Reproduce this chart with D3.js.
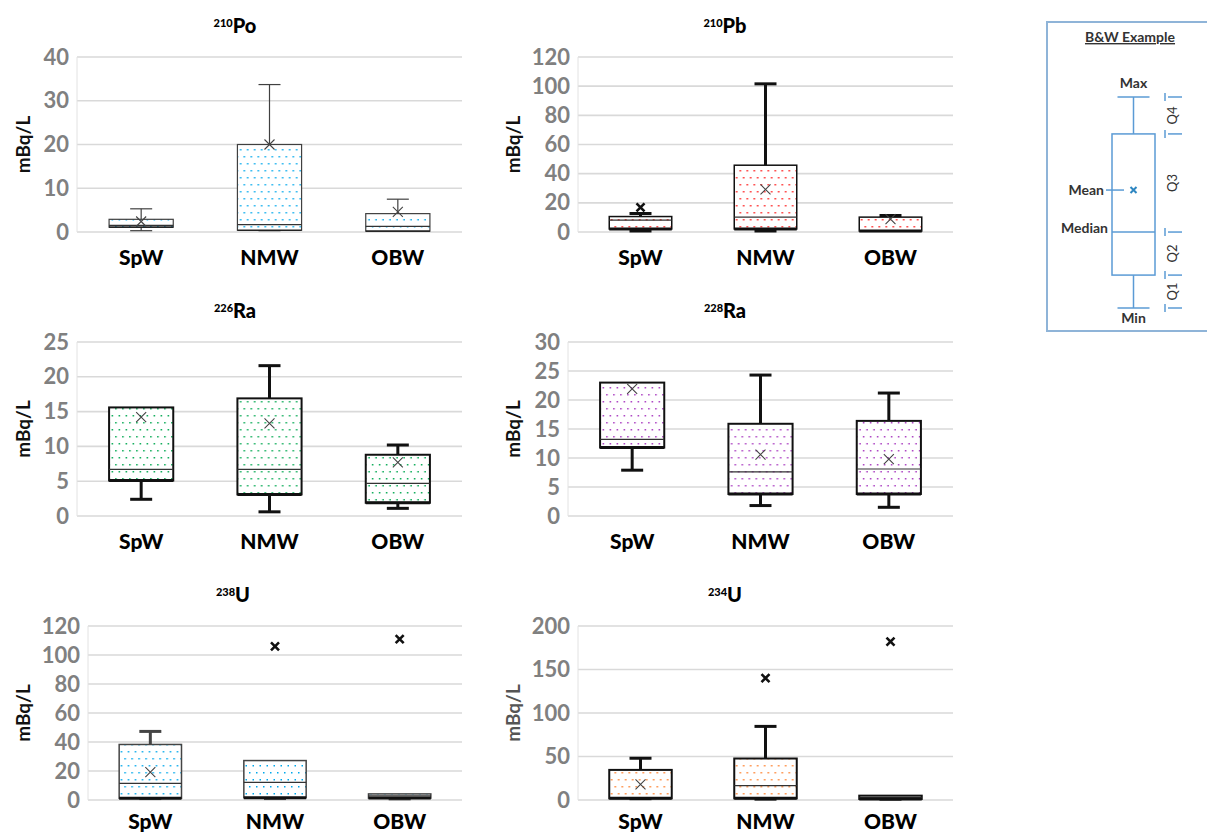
<!DOCTYPE html>
<html>
<head>
<meta charset="utf-8">
<script src="https://cdn.jsdelivr.net/npm/d3@7"></script>
<style>
  body { margin: 0; background: #fff; }
  svg { display: block; }
  text { font-family: Lato, "Open Sans", sans-serif; }
</style>
</head>
<body>
<svg id="chart" width="1207" height="835"></svg>
<script>
const groups = ["SpW", "NMW", "OBW"];

// each row: [min, q1, median, q3, max, mean] for SpW, NMW, OBW
const po210 = [[0.3, 1.1, 1.5, 2.9, 5.3, 2.4], [0.3, 0.4, 1.7, 20.0, 33.7, 20.0], [0.2, 0.2, 1.3, 4.2, 7.5, 4.6]];
const pb210 = [[0.7, 2.1, 8.1, 10.6, 12.7, 16.9], [0.7, 2.1, 10.2, 45.8, 101.6, 29.2], [0.7, 0.7, 0.9, 10.2, 11.3, 8.8]];
const ra226 = [[2.4, 5.1, 6.7, 15.6, 15.6, 14.2], [0.6, 3.1, 6.7, 16.9, 21.6, 13.3], [1.1, 1.9, 4.7, 8.8, 10.2, 7.7]];
const ra228 = [[7.9, 11.8, 13.2, 23.0, 23.0, 21.9], [1.8, 3.8, 7.6, 15.9, 24.3, 10.6], [1.5, 3.8, 8.1, 16.4, 21.2, 9.8]];
const u238 = [[1.0, 1.2, 11.5, 38.3, 47.3, 19.2], [1.0, 1.6, 12.2, 27.2, 27.2, 106], [0.8, 1.3, 2.8, 4.2, 4.2, 111]];
const u234 = [[1.5, 1.9, 2.2, 34.6, 48, 18], [1.0, 1.9, 16.5, 47.7, 84.6, 140], [1.0, 1.2, 3.0, 5.0, 5.0, 182]];

const poTicks = [0, 10, 20, 30, 40];
const pbTicks = [0, 20, 40, 60, 80, 100, 120];
const ra226Ticks = [0, 5, 10, 15, 20, 25];
const ra228Ticks = [0, 5, 10, 15, 20, 25, 30];
const u238Ticks = [0, 20, 40, 60, 80, 100, 120];
const u234Ticks = [0, 50, 100, 150, 200];

const massNumbers = ["210", "210", "226", "228", "238", "234"];
const elements = ["Po", "Pb", "Ra", "Ra", "U", "U"];
const unitLabel = "mBq/L";

// legend example, in fractions of the whisker span: [min, q1, median, q3, max, mean]
const legendStats = [0, 0.156, 0.36, 0.825, 1, 0.559];
const quartileNames = ["Q1", "Q2", "Q3", "Q4"];

const panelData = [po210, pb210, ra226, ra228, u238, u234];
const panelTicks = [poTicks, pbTicks, ra226Ticks, ra228Ticks, u238Ticks, u234Ticks];

const dotColors = ["#00a8ec", "#ff1a1a", "#00a850", "#a838c0", "#00a8ec", "#ff7f2a"];

const frames = [
  { left: 77, right: 462, top: 57, bottom: 232, titleX: 235, labelX: 23, catY: 33 },
  { left: 578, right: 953, top: 57, bottom: 232, titleX: 725, labelX: 513, catY: 33 },
  { left: 77, right: 462, top: 342, bottom: 516, titleX: 235, labelX: 23, catY: 33 },
  { left: 568, right: 953, top: 342, bottom: 516, titleX: 725, labelX: 513, catY: 33 },
  { left: 88, right: 462, top: 626, bottom: 800, titleX: 233, labelX: 23, catY: 29 },
  { left: 578, right: 953, top: 626, bottom: 800, titleX: 725, labelX: 513, catY: 29 }
];

const looks = [
  { stroke: "#404040", box: 1.2, whisker: 1.2, q1: 1.2 },
  { stroke: "#111", box: 1.5, whisker: 3, q1: 3 },
  { stroke: "#111", box: 2, whisker: 3, q1: 3 },
  { stroke: "#111", box: 2, whisker: 3, q1: 3 },
  { stroke: "#444", box: 1.5, whisker: 3, q1: 3 },
  { stroke: "#111", box: 2, whisker: 3, q1: 3 }
];

const svg = d3.select("#chart");
const defs = svg.append("defs");

dotColors.forEach((c, i) => {
  const p = defs.append("pattern")
    .attr("id", "dots" + i)
    .attr("patternUnits", "userSpaceOnUse")
    .attr("width", 14).attr("height", 14);
  p.append("rect").attr("width", 14).attr("height", 14).attr("fill", "#fff");
  [[2, 2], [9, 2], [5.5, 9], [12.5, 9]].forEach(([x, y]) => {
    p.append("rect").attr("x", x).attr("y", y).attr("width", 1.5).attr("height", 1.5).attr("fill", c);
  });
});

function drawPanel(i) {
  const f = frames[i];
  const rows = panelData[i];
  const ticks = panelTicks[i];
  const look = looks[i];
  const g = svg.append("g");

  const x = d3.scaleBand().domain(groups).range([f.left, f.right]);
  const y = d3.scaleLinear().domain([0, d3.max(ticks)]).range([f.bottom, f.top]);

  // gridlines
  g.append("g").selectAll("line").data(ticks).join("line")
    .attr("x1", f.left).attr("x2", f.right)
    .attr("y1", d => y(d)).attr("y2", d => y(d))
    .attr("stroke", "#d9d9d9").attr("stroke-width", 1.6);
  g.append("line")
    .attr("x1", f.left).attr("x2", f.left)
    .attr("y1", f.top).attr("y2", f.bottom)
    .attr("stroke", "#e2e2e2").attr("stroke-width", 1);

  // y axis labels
  const yAxis = d3.axisLeft(y).tickValues(ticks).tickSize(0).tickPadding(8);
  const ya = g.append("g").attr("transform", `translate(${f.left},0)`).call(yAxis);
  ya.select(".domain").remove();
  ya.selectAll("text")
    .attr("fill", "#808080").attr("font-size", 22).attr("font-weight", 700)
    .style("font-family", "Lato, sans-serif");

  // x axis labels
  const xAxis = d3.axisBottom(x).tickSize(0).tickPadding(0);
  const xa = g.append("g").attr("transform", `translate(0,${f.bottom})`).call(xAxis);
  xa.select(".domain").remove();
  xa.selectAll("text")
    .attr("dy", null).attr("y", f.catY)
    .attr("fill", "#000").attr("font-size", 21).attr("font-weight", 900)
    .style("font-family", "Lato, sans-serif");

  // unit label
  g.append("text")
    .attr("transform", `translate(${f.labelX + 7},${(f.top + f.bottom) / 2}) rotate(-90)`)
    .attr("text-anchor", "middle")
    .attr("font-size", 19).attr("font-weight", 700)
    .attr("fill", i === 5 ? "#555" : "#111")
    .text(unitLabel);

  // title
  const t = g.append("text")
    .attr("x", f.titleX).attr("y", f.top - 24)
    .attr("text-anchor", "middle").attr("font-weight", 900).attr("fill", "#000");
  t.append("tspan").attr("font-size", 11).attr("dy", -6).text(massNumbers[i]);
  t.append("tspan").attr("font-size", 20).attr("dy", 6).text(elements[i]);

  const bw = x.bandwidth() * 0.5;
  const cap = 22;
  const boxes = g.append("g").selectAll("g").data(rows).join("g")
    .attr("transform", (d, k) => `translate(${x(groups[k]) + x.bandwidth() / 2},0)`);

  // whiskers
  boxes.each(function (d) {
    const b = d3.select(this);
    const [mn, q1, med, q3, mx] = d;
    if (mx > q3) {
      b.append("line").attr("x1", 0).attr("x2", 0).attr("y1", y(q3)).attr("y2", y(mx))
        .attr("stroke", look.stroke).attr("stroke-width", look.whisker);
      b.append("line").attr("x1", -cap / 2).attr("x2", cap / 2).attr("y1", y(mx)).attr("y2", y(mx))
        .attr("stroke", look.stroke).attr("stroke-width", look.whisker);
    }
    if (mn < q1) {
      b.append("line").attr("x1", 0).attr("x2", 0).attr("y1", y(q1)).attr("y2", y(mn))
        .attr("stroke", look.stroke).attr("stroke-width", look.whisker);
      b.append("line").attr("x1", -cap / 2).attr("x2", cap / 2).attr("y1", y(mn)).attr("y2", y(mn))
        .attr("stroke", look.stroke).attr("stroke-width", look.whisker);
    }
  });

  boxes.append("rect")
    .attr("x", -bw / 2).attr("width", bw)
    .attr("y", d => y(d[3]))
    .attr("height", d => Math.max(1, y(d[1]) - y(d[3])))
    .attr("fill", `url(#dots${i})`)
    .attr("stroke", look.stroke).attr("stroke-width", look.box);

  boxes.append("line")
    .attr("x1", -bw / 2).attr("x2", bw / 2)
    .attr("y1", d => y(d[2])).attr("y2", d => y(d[2]))
    .attr("stroke", "#333").attr("stroke-width", 1.2);

  boxes.append("line")
    .attr("x1", -bw / 2).attr("x2", bw / 2)
    .attr("y1", d => y(d[1])).attr("y2", d => y(d[1]))
    .attr("stroke", "#111").attr("stroke-width", look.q1);

  // mean markers; bold when above the whisker
  boxes.append("path")
    .attr("d", d => {
      const s = d[5] > d[4] ? 4 : 5;
      const cy = y(d[5]);
      return `M${-s},${cy - s}L${s},${cy + s}M${-s},${cy + s}L${s},${cy - s}`;
    })
    .attr("fill", "none")
    .attr("stroke", d => d[5] > d[4] ? "#111" : "#444")
    .attr("stroke-width", d => d[5] > d[4] ? 2.6 : 1.1);
}

d3.range(panelData.length).forEach(drawPanel);

// legend box
const lg = svg.append("g");
const lBlue = "#5b9bd5";
lg.append("rect")
  .attr("x", 1047).attr("y", 22).attr("width", 180).attr("height", 309)
  .attr("fill", "none").attr("stroke", "#8fb4d8").attr("stroke-width", 2);
lg.append("text")
  .attr("x", 1130).attr("y", 42).attr("text-anchor", "middle")
  .attr("font-size", 14).attr("font-weight", 700).attr("fill", "#333")
  .attr("text-decoration", "underline")
  .text("B&W Example");

const ly = d3.scaleLinear().domain([0, 1]).range([308, 97]);
const [lMin, lQ1, lMed, lQ3, lMax, lMean] = legendStats;
const lcx = 1133.5, lbw = 43;
lg.append("line").attr("x1", lcx).attr("x2", lcx).attr("y1", ly(lMax)).attr("y2", ly(lQ3))
  .attr("stroke", lBlue).attr("stroke-width", 1.5);
lg.append("line").attr("x1", lcx).attr("x2", lcx).attr("y1", ly(lQ1)).attr("y2", ly(lMin))
  .attr("stroke", lBlue).attr("stroke-width", 1.5);
[lMax, lMin].forEach(v => {
  lg.append("line").attr("x1", lcx - 16).attr("x2", lcx + 16).attr("y1", ly(v)).attr("y2", ly(v))
    .attr("stroke", lBlue).attr("stroke-width", 1.5);
});
lg.append("rect")
  .attr("x", lcx - lbw / 2).attr("width", lbw)
  .attr("y", ly(lQ3)).attr("height", ly(lQ1) - ly(lQ3))
  .attr("fill", "#fff").attr("stroke", lBlue).attr("stroke-width", 1.5);
lg.append("line").attr("x1", lcx - lbw / 2).attr("x2", lcx + lbw / 2)
  .attr("y1", ly(lMed)).attr("y2", ly(lMed))
  .attr("stroke", lBlue).attr("stroke-width", 1.5);
const my = ly(lMean);
lg.append("path")
  .attr("d", `M${lcx - 3},${my - 3}L${lcx + 3},${my + 3}M${lcx - 3},${my + 3}L${lcx + 3},${my - 3}`)
  .attr("stroke", "#2e86c1").attr("stroke-width", 2);
lg.append("line").attr("x1", 1106).attr("x2", 1124).attr("y1", my).attr("y2", my)
  .attr("stroke", lBlue).attr("stroke-width", 1.5);

const legendText = [
  { x: lcx, y: ly(lMax) - 9, anchor: "middle", text: "Max" },
  { x: lcx, y: ly(lMin) + 15, anchor: "middle", text: "Min" },
  { x: 1104, y: my + 5, anchor: "end", text: "Mean" },
  { x: 1108, y: ly(lMed) + 1, anchor: "end", text: "Median" }
];
lg.selectAll("text.lab").data(legendText).join("text")
  .attr("class", "lab")
  .attr("x", d => d.x).attr("y", d => d.y)
  .attr("text-anchor", d => d.anchor)
  .attr("font-size", 14).attr("font-weight", 700).attr("fill", "#333")
  .text(d => d.text);

// quartile brackets
const bounds = [lMin, lQ1, lMed, lQ3, lMax];
lg.selectAll("line.qb").data(bounds).join("line")
  .attr("class", "qb")
  .attr("x1", 1168).attr("x2", 1182)
  .attr("y1", d => ly(d)).attr("y2", d => ly(d))
  .attr("stroke", lBlue).attr("stroke-width", 1.5);
lg.selectAll("line.qv").data(bounds).join("line")
  .attr("class", "qv")
  .attr("x1", 1165).attr("x2", 1165)
  .attr("y1", d => ly(d) - 4).attr("y2", d => ly(d) + 4)
  .attr("stroke", lBlue).attr("stroke-width", 1.5);
lg.selectAll("text.q").data(quartileNames).join("text")
  .attr("class", "q")
  .attr("transform", (d, k) => `translate(${1177},${(ly(bounds[k]) + ly(bounds[k + 1])) / 2}) rotate(-90)`)
  .attr("text-anchor", "middle")
  .attr("font-size", 13).attr("fill", "#333")
  .text(d => d);
</script>
</body>
</html>
